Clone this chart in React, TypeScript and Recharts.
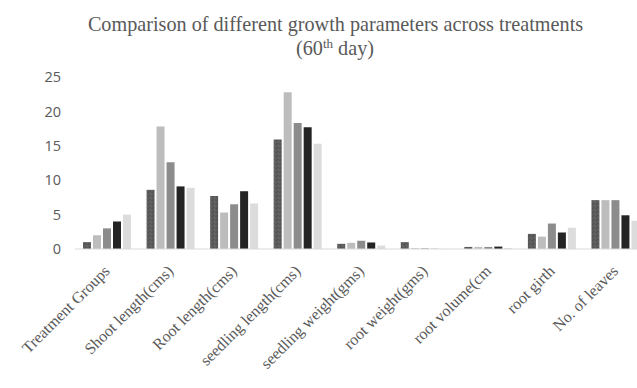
import React from "react";
import { BarChart, Bar, XAxis, YAxis } from "recharts";

const categories = [
  "Treatment Groups",
  "Shoot length(cms)",
  "Root length(cms)",
  "seedling length(cms)",
  "seedling weight(gms)",
  "root weight(gms)",
  "root volume(cm",
  "root girth",
  "No. of leaves",
];
const t1 = [1, 8.6, 7.7, 15.9, 0.75, 1.0, 0.3, 2.2, 7.1];
const t2 = [2, 17.8, 5.3, 22.8, 0.9, 0.12, 0.3, 1.8, 7.1];
const t3 = [3, 12.6, 6.5, 18.3, 1.2, 0.1, 0.3, 3.7, 7.1];
const t4 = [4, 9.1, 8.4, 17.7, 0.95, 0.02, 0.35, 2.4, 4.9];
const t5 = [5, 8.9, 6.6, 15.3, 0.5, 0.02, 0.15, 3.1, 4.1];
const yTicks = [0, 5, 10, 15, 20, 25];

const data = categories.map((c, i) => ({
  name: c,
  t1: t1[i],
  t2: t2[i],
  t3: t3[i],
  t4: t4[i],
  t5: t5[i],
}));

const XTick = (props: any) => {
  const { x, y, payload } = props;
  const ax = x + 4;
  const ay = y + 15;
  return (
    <text
      x={ax}
      y={ay}
      transform={`rotate(-45, ${ax}, ${ay})`}
      textAnchor="end"
      fontFamily="'Liberation Serif', 'Times New Roman', serif"
      fontSize={16}
      fill="#595959"
    >
      {payload.value}
    </text>
  );
};

export default function App() {
  return (
    <div
      style={{
        position: "absolute",
        left: 0,
        top: 0,
        width: 637,
        height: 388,
        overflow: "hidden",
        background: "#fff",
      }}
    >
      <svg width={0} height={0} style={{ position: "absolute" }}>
        <defs>
          <pattern id="tex1" width={4} height={4} patternUnits="userSpaceOnUse">
            <rect x={0} y={0} width={4} height={4} fill="#5c5c5c" />
            <rect x={0} y={0} width={1} height={1} fill="#4c4c4c" />
            <rect x={2} y={1} width={1} height={1} fill="#6a6a6a" />
            <rect x={1} y={3} width={1} height={1} fill="#505050" />
            <rect x={3} y={2} width={1} height={1} fill="#666666" />
          </pattern>
        </defs>
      </svg>
      <svg
        width={637}
        height={70}
        style={{ position: "absolute", left: 0, top: 0 }}
      >
        <text
          x={335.5}
          y={31}
          textAnchor="middle"
          fontFamily="'Liberation Serif', 'Times New Roman', serif"
          fontSize={20.2}
          fill="#595959"
        >
          Comparison of different growth parameters across treatments
        </text>
        <text
          x={335}
          y={55}
          textAnchor="middle"
          fontFamily="'Liberation Serif', 'Times New Roman', serif"
          fontSize={20.2}
          fill="#595959"
        >
          (60
          <tspan fontSize={13} dy={-7}>
            th
          </tspan>
          <tspan dy={7}> day)</tspan>
        </text>
      </svg>
      <div style={{ position: "absolute", left: 0, top: 0 }}>
        <BarChart
          width={647}
          height={388}
          data={data}
          margin={{ top: 77, right: 0, bottom: 0, left: 0 }}
          barSize={8}
          barGap={2}
        >
          <XAxis
            dataKey="name"
            interval={0}
            height={139}
            tickLine={false}
            axisLine={{ stroke: "#d9d9d9", strokeWidth: 1 }}
            tick={<XTick />}
          />
          <YAxis
            width={75}
            domain={[0, 25]}
            ticks={yTicks}
            axisLine={false}
            tickLine={false}
            tickSize={0}
            tickMargin={14}
            tick={{
              fill: "#595959",
              fontSize: 14.5,
              fontFamily: "'Open Sans', 'Liberation Sans', sans-serif",
            }}
          />
          <Bar dataKey="t1" fill="url(#tex1)" isAnimationActive={false} />
          <Bar dataKey="t2" fill="#bdbdbd" isAnimationActive={false} />
          <Bar dataKey="t3" fill="#8c8c8c" isAnimationActive={false} />
          <Bar dataKey="t4" fill="#242424" isAnimationActive={false} />
          <Bar dataKey="t5" fill="#dcdcdc" isAnimationActive={false} />
        </BarChart>
      </div>
    </div>
  );
}
